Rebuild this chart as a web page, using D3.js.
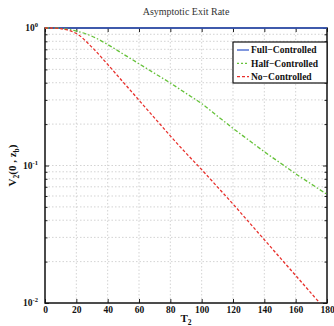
<!DOCTYPE html>
<html>
<head>
<meta charset="utf-8">
<script src="https://cdn.jsdelivr.net/npm/d3@7/dist/d3.min.js"></script>
<style>
  html, body { margin: 0; padding: 0; background: #fff; }
  svg { display: block; font-family: "Liberation Serif", "DejaVu Serif", serif; }
</style>
</head>
<body>
<div id="chart"></div>
<script>
// --- Data (log10 of V2) ---
const tValues = [0, 10, 20, 30, 40, 50, 60, 70, 80, 90, 100, 110, 120, 130, 140, 150, 160, 170, 180];
const fullLog = [0, 0, 0, 0, 0, 0, 0, 0, 0, 0, 0, 0, 0, 0, 0, 0, 0, 0, 0];
const halfLog = [0, -0.003, -0.022, -0.06, -0.12, -0.19, -0.26, -0.33, -0.40, -0.475, -0.55, -0.64, -0.73, -0.815, -0.90, -0.98, -1.06, -1.135, -1.21];
const noLog = [0, -0.005, -0.04, -0.14, -0.265, -0.395, -0.525, -0.655, -0.785, -0.91, -1.03, -1.155, -1.28, -1.41, -1.54, -1.67, -1.80, -1.93, -2.06];
const xTicks = [0, 20, 40, 60, 80, 100, 120, 140, 160, 180];
const yMajor = [1, 0.1, 0.01];
const seriesNames = ['Full\u2212Controlled', 'Half\u2212Controlled', 'No\u2212Controlled'];
const seriesColors = ['#3b5fcc', '#66c23a', '#e8302c'];
const seriesDash = [null, '4,2,1.5,2', '3,2'];

const W = 334, H = 326;
const margin = { top: 28, right: 7, bottom: 23, left: 45 };
const width = W - margin.left - margin.right;
const height = H - margin.top - margin.bottom;

const svg = d3.select('#chart').append('svg')
  .attr('width', W).attr('height', H);

const g = svg.append('g').attr('transform', `translate(${margin.left},${margin.top})`);

const x = d3.scaleLinear().domain([0, 180]).range([0, width]);
const y = d3.scaleLog().domain([0.01, 1]).range([height, 0]);

// minor log values
const yMinor = [];
[0.01, 0.1].forEach(d => { for (let k = 2; k <= 9; k++) yMinor.push(d * k); });

// --- Grid ---
const grid = g.append('g').attr('stroke', '#c8c8c8').attr('stroke-width', 0.8).attr('stroke-dasharray', '1.5,2');
grid.selectAll('.gx').data(xTicks.slice(1, -1)).enter().append('line')
  .attr('x1', d => x(d)).attr('x2', d => x(d)).attr('y1', 0).attr('y2', height);
grid.selectAll('.gy').data(yMinor.concat([0.1])).enter().append('line')
  .attr('x1', 0).attr('x2', width).attr('y1', d => y(d)).attr('y2', d => y(d));

// --- Axes ---
const xAxis = g.append('g').attr('transform', `translate(0,${height})`)
  .call(d3.axisBottom(x).tickValues(xTicks).tickSize(-4).tickPadding(3));
const xTop = g.append('g')
  .call(d3.axisTop(x).tickValues(xTicks).tickSize(-4).tickFormat(''));
const yAxis = g.append('g')
  .call(d3.axisLeft(y).tickValues(yMajor).tickSize(-4).tickFormat(''));
const yMinorL = g.append('g')
  .call(d3.axisLeft(y).tickValues(yMinor).tickSize(-2.5).tickFormat(''));
const yRight = g.append('g').attr('transform', `translate(${width},0)`)
  .call(d3.axisRight(y).tickValues(yMajor).tickSize(-4).tickFormat(''));
const yMinorR = g.append('g').attr('transform', `translate(${width},0)`)
  .call(d3.axisRight(y).tickValues(yMinor).tickSize(-2.5).tickFormat(''));

[xAxis, xTop, yAxis, yMinorL, yRight, yMinorR].forEach(a => {
  a.select('.domain').remove();
  a.selectAll('line').attr('stroke', '#222').attr('stroke-width', 1);
});
xAxis.selectAll('text')
  .attr('font-family', '"Liberation Serif", serif')
  .attr('font-weight', 'bold').attr('font-size', 9.5).attr('fill', '#111');

// y major labels as 10^n
const yLabels = g.append('g');
yMajor.forEach(v => {
  const t = yLabels.append('text')
    .attr('x', -7).attr('y', y(v) + 3)
    .attr('text-anchor', 'end')
    .attr('font-weight', 'bold').attr('font-size', 9.5).attr('fill', '#111');
  t.append('tspan').text('10');
  t.append('tspan').attr('dy', -4).attr('font-size', 6.5).text(Math.round(Math.log10(v)));
});

// frame
g.append('rect').attr('width', width).attr('height', height)
  .attr('fill', 'none').attr('stroke', '#111').attr('stroke-width', 1.5);

// --- Lines (drawn over the frame, like the original) ---
const clip = g.append('clipPath').attr('id', 'plotclip');
clip.append('rect').attr('x', -2).attr('y', -2).attr('width', width + 4).attr('height', height + 2);

const lineGen = d3.line()
  .x(d => x(d[0]))
  .y(d => y(Math.pow(10, d[1])))
  .curve(d3.curveCatmullRom);

const allSeries = [fullLog, halfLog, noLog];
allSeries.forEach((s, i) => {
  g.append('path')
    .datum(tValues.map((t, j) => [t, s[j]]))
    .attr('clip-path', 'url(#plotclip)')
    .attr('fill', 'none')
    .attr('stroke', seriesColors[i])
    .attr('stroke-width', 1.3)
    .attr('stroke-dasharray', seriesDash[i])
    .attr('d', lineGen);
});

// --- Title & labels ---
svg.append('text')
  .attr('x', margin.left + width / 2).attr('y', 15)
  .attr('text-anchor', 'middle').attr('font-size', 10).attr('fill', '#333')
  .text('Asymptotic Exit Rate');

const xl = svg.append('text')
  .attr('x', margin.left + width / 2).attr('y', 322)
  .attr('text-anchor', 'middle').attr('font-weight', 'bold').attr('font-size', 11).attr('fill', '#111');
xl.append('tspan').text('T');
xl.append('tspan').attr('dy', 3).attr('font-size', 7.5).text('2');

const yl = svg.append('text')
  .attr('transform', `translate(16,${margin.top + height / 2}) rotate(-90)`)
  .attr('text-anchor', 'middle').attr('font-weight', 'bold').attr('font-size', 11).attr('fill', '#111');
yl.append('tspan').text('V');
yl.append('tspan').attr('dy', 3).attr('font-size', 7.5).text('2');
yl.append('tspan').attr('dy', -3).text('(0 , z');
yl.append('tspan').attr('dy', 3).attr('font-size', 7.5).text('b');
yl.append('tspan').attr('dy', -3).text(')');

// --- Legend ---
const lg = svg.append('g').attr('transform', 'translate(233,42)');
lg.append('rect').attr('width', 94).attr('height', 41)
  .attr('fill', '#fff').attr('stroke', '#111').attr('stroke-width', 1.2);
seriesNames.forEach((name, i) => {
  const yy = 8 + i * 13.3;
  lg.append('line').attr('x1', 4).attr('x2', 16).attr('y1', yy).attr('y2', yy)
    .attr('stroke', seriesColors[i]).attr('stroke-width', 1.3)
    .attr('stroke-dasharray', i === 1 ? '2,2' : seriesDash[i]);
  lg.append('text').attr('x', 18).attr('y', yy + 3.2)
    .attr('font-weight', 'bold').attr('font-size', 9.5).attr('fill', '#111')
    .text(name);
});
</script>
</body>
</html>
